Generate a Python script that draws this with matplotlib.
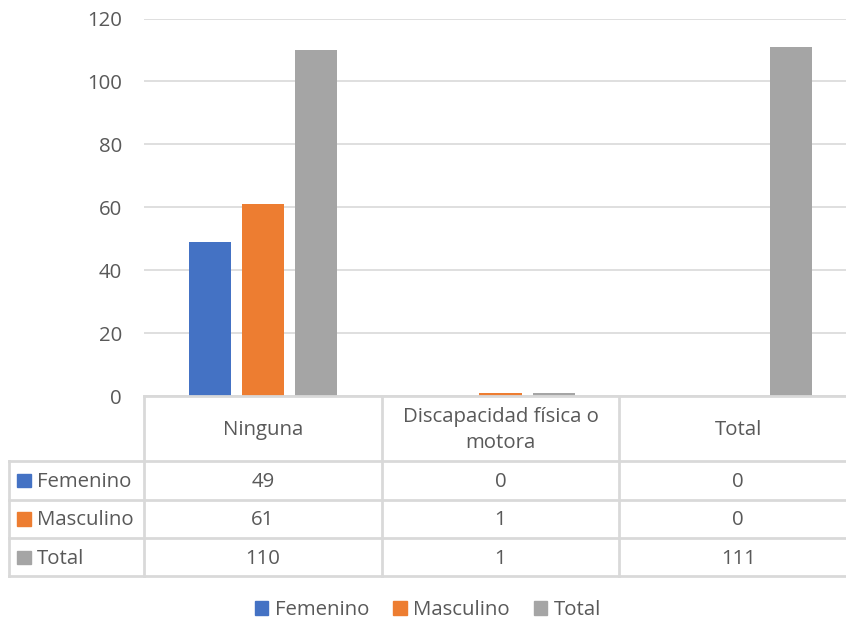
import numpy as np
import matplotlib.pyplot as plt
from matplotlib.patches import Rectangle

# Data
categories = ["Ninguna", "Discapacidad física o\nmotora", "Total"]
series_names = ["Femenino", "Masculino", "Total"]
femenino = [49, 0, 0]
masculino = [61, 1, 0]
total = [110, 1, 111]
y_ticks = [0, 20, 40, 60, 80, 100, 120]

colors = ["#4472C4", "#ED7D31", "#A5A5A5"]
text_color = "#595959"
grid_color = "#D9D9D9"
plt.rcParams["font.family"] = ["Open Sans", "DejaVu Sans"]
fs = 14.7

W, H = 846, 621
fig = plt.figure(figsize=(W / 100, H / 100), dpi=100)

# main plot area (extends a little past the right edge)
ax = fig.add_axes([144 / W, 1 - 396 / H, 713 / W, 377.5 / H])
x = np.arange(len(categories))
bw = 0.177
offs = 0.224
for i, (vals, c) in enumerate(zip([femenino, masculino, total], colors)):
    ax.bar(x + (i - 1) * offs, vals, width=bw, color=c, zorder=3)

ax.set_xlim(-0.5, len(categories) - 0.5)
ax.set_ylim(0, 120)
ax.set_yticks(y_ticks)
ax.set_xticks([])
ax.tick_params(axis="y", length=0, pad=16, labelsize=fs, labelcolor=text_color)
ax.grid(axis="y", color=grid_color, linewidth=1.2, zorder=0)
for s in ax.spines.values():
    s.set_visible(False)

# overlay in pixel coordinates for the data table and legend
ov = fig.add_axes([0, 0, 1, 1])
ov.set_xlim(0, W)
ov.set_ylim(H, 0)
ov.axis("off")
ov.patch.set_alpha(0)

fig.canvas.draw()
def px(xd):
    return ax.transData.transform((xd, 0))[0]

edges = [px(e) for e in np.arange(len(categories) + 1) - 0.5]
centers = [px(xi) for xi in x]
table_left = 9
row_lines = [396, 461, 499.5, 538, 576]
lw = 2.0
lc = "#D9D9D9"
dy = 1.5  # small downward nudge for cell text

# horizontal lines
ov.plot([edges[0], W + 20], [row_lines[0]] * 2, color=lc, lw=lw)
for yl in row_lines[1:]:
    ov.plot([table_left, W + 20], [yl, yl], color=lc, lw=lw)
# vertical lines
ov.plot([table_left] * 2, [row_lines[1], row_lines[-1]], color=lc, lw=lw)
for xe in edges[:-1]:
    ov.plot([xe, xe], [row_lines[0], row_lines[-1]], color=lc, lw=lw)

# header row
hy = (row_lines[0] + row_lines[1]) / 2 + dy
for cx, cat in zip(centers, categories):
    ov.text(cx, hy, cat, ha="center", va="center", fontsize=fs,
            color=text_color, linespacing=1.35)

# data rows
for r, (name, vals, c) in enumerate(zip(series_names, [femenino, masculino, total], colors)):
    ry = (row_lines[r + 1] + row_lines[r + 2]) / 2
    ov.add_patch(Rectangle((17, ry - 6.5), 13.5, 13.5, color=c))
    ov.text(37, ry + dy, name, ha="left", va="center", fontsize=fs, color=text_color)
    for cx, v in zip(centers, vals):
        ov.text(cx, ry + dy, str(v), ha="center", va="center", fontsize=fs, color=text_color)

# legend
handles = [Rectangle((0, 0), 1, 1, color=c) for c in colors]
fig.legend(handles, series_names, loc="center", bbox_to_anchor=(428 / W, 1 - 610 / H),
           ncol=3, frameon=False, fontsize=fs, labelcolor=text_color,
           handlelength=0.65, handleheight=0.65, handletextpad=0.3, columnspacing=1.2,
           borderaxespad=0, borderpad=0)

fig.savefig("out.png", dpi=100)
